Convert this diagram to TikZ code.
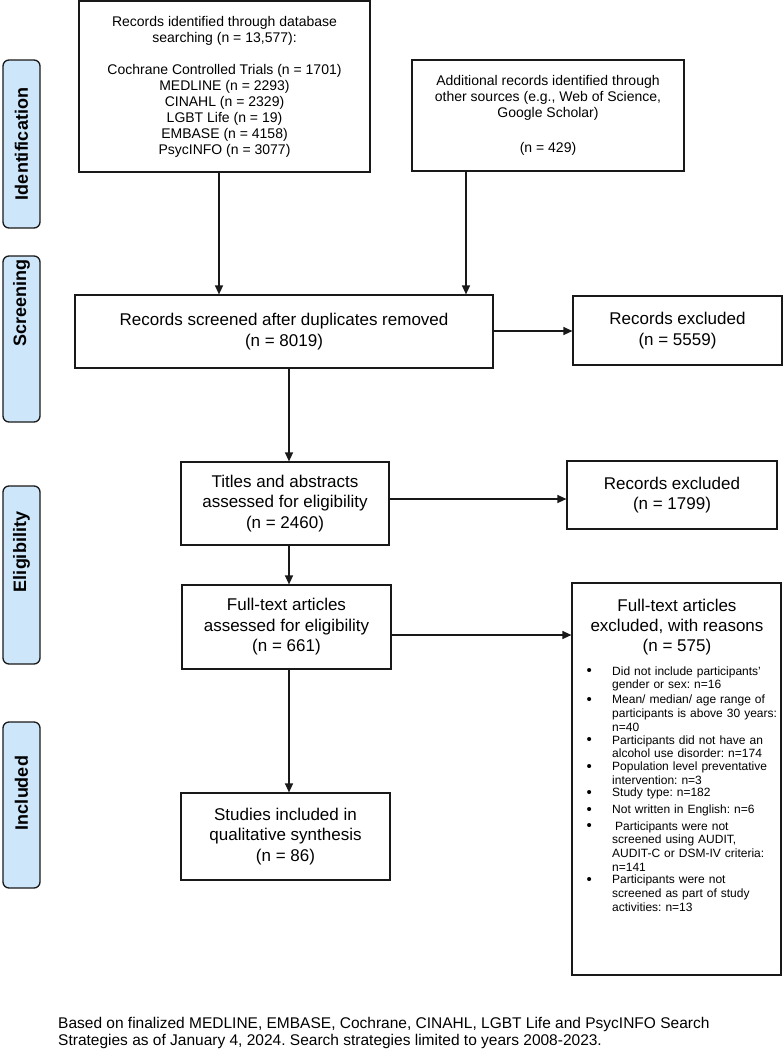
\documentclass[tikz,border=0pt]{standalone}
\usepackage{fontspec}
\setmainfont{Liberation Sans}
\usetikzlibrary{arrows.meta,calc}
\definecolor{labfill}{RGB}{205,230,250}
\definecolor{linec}{RGB}{25,25,25}
\frenchspacing
\newcommand{\exitem}[2][0pt]{\par\noindent\hbox to 26pt{\hskip 0.5pt\raisebox{-0.6pt}{\fontsize{15}{13.8}\selectfont\textbullet}\hfil}\hspace{#1}\parbox[t]{170pt}{\raggedright #2}\par\vspace{2.8pt}}
\begin{document}
\begin{tikzpicture}[x=1pt,y=-1pt,
  box/.style={draw=linec, line width=1.2pt, inner sep=0pt, align=center, font=\fontsize{17}{20.5}\selectfont},
  smallbox/.style={box, font=\fontsize{14}{16}\selectfont},
  labbox/.style={draw=linec, fill=labfill, line width=1.3pt, rounded corners=6pt, inner sep=0pt, rotate=90, minimum height=37pt},
  labtext/.style={font=\bfseries\fontsize{18}{20}\selectfont, rotate=90, inner sep=0pt},
  arr/.style={draw=linec, line width=1.3pt, -{Triangle[length=9pt,width=8pt]}}]
\useasboundingbox (0,0) rectangle (783,1050);

% stage labels
\node[labbox, minimum width=168pt] (lab1) at (21.5,144) {};
\node[labtext] (lab1t) at (21.5,144) {Identification};
\node[labbox, minimum width=166pt] (lab2) at (21.5,339) {};
\node[labtext] (lab2t) at (21.5,303) {Screening};
\node[labbox, minimum width=178pt] (lab3) at (21.5,575) {};
\node[labtext] (lab3t) at (21.5,552) {Eligibility};
\node[labbox, minimum width=166pt] (lab4) at (21.5,805) {};
\node[labtext] (lab4t) at (21.5,793) {Included};

% boxes
\node[smallbox, minimum width=291pt, minimum height=171pt] (tl) at (224.5,86.5)
  {Records identified through database\\ searching (n = 13,577):\\[16pt]
   Cochrane Controlled Trials (n = 1701)\\ MEDLINE (n = 2293)\\ CINAHL (n = 2329)\\
   LGBT Life (n = 19)\\ EMBASE (n = 4158)\\ PsycINFO (n = 3077)};
\node[smallbox, minimum width=272pt, minimum height=111pt] (tr) at (548,115.5)
  {Additional records identified through\\ other sources (e.g., Web of Science,\\ Google Scholar)\\[19pt] (n = 429)};
\node[box, minimum width=418pt, minimum height=73pt] (scr) at (284,331.5)
  {Records screened after duplicates removed\\ (n = 8019)};
\node[box, minimum width=209pt, minimum height=69pt] (exc1) at (677.5,330.5)
  {Records excluded\\ (n = 5559)};
\node[box, minimum width=208pt, minimum height=83pt] (tit) at (285,503.5)
  {Titles and abstracts\\ assessed for eligibility\\ (n = 2460)};
\node[box, minimum width=210pt, minimum height=68pt] (exc2) at (672,495)
  {Records excluded\\ (n = 1799)};
\node[box, minimum width=209pt, minimum height=84pt] (ft) at (286.5,627)
  {Full-text articles\\ assessed for eligibility\\ (n = 661)};
\node[box, minimum width=209pt, minimum height=392pt] (exc3) at (676.5,779) {};
\node[align=center, inner sep=0pt, font=\fontsize{17}{20}\selectfont] (exc3h) at (677,627)
  {Full-text articles\\ excluded, with reasons\\ (n = 575)};
\node[anchor=north west, inner sep=0pt, text width=197pt, align=left, font=\fontsize{12}{13.8}\selectfont] (exc3l) at (586,661)
  {\exitem{Did not include participants'\\ gender or sex: n=16}
   \exitem{Mean/ median/ age range of\\ participants is above 30 years:\\ n=40}
   \exitem{Participants did not have an\\ alcohol use disorder: n=174}
   \exitem{Population level preventative\\ intervention: n=3}
   \exitem{Study type: n=182}
   \exitem{Not written in English: n=6}
   \exitem{\hspace*{3pt}Participants were not\\ screened using AUDIT,\\ AUDIT-C or DSM-IV criteria:\\ n=141}
   \exitem{Participants were not\\ screened as part of study\\ activities: n=13}};
\node[box, minimum width=209pt, minimum height=87pt] (inc) at (285.5,836.5)
  {Studies included in\\ qualitative synthesis\\ (n = 86)};

% footnote
\node[anchor=north west, align=left, inner sep=0pt, font=\fontsize{15.5}{17}\selectfont] (note) at (58,1017)
  {Based on finalized MEDLINE, EMBASE, Cochrane, CINAHL, LGBT Life and PsycINFO Search\\
   Strategies as of January 4, 2024. Search strategies limited to years 2008-2023.};

% connector guides
\coordinate (ax1) at (219,0);
\coordinate (ax2) at (466,0);
\coordinate (ax3) at (289,0);
\coordinate (ay1) at (0,331);
\coordinate (ay2) at (0,499);
\coordinate (ay3) at (0,635);

\draw[arr] (tl.south -| ax1) -- (scr.north -| ax1);
\draw[arr] (tr.south -| ax2) -- (scr.north -| ax2);
\draw[arr] (scr.east |- ay1) -- (exc1.west |- ay1);
\draw[arr] (scr.south -| ax3) -- (tit.north -| ax3);
\draw[arr] (tit.east |- ay2) -- (exc2.west |- ay2);
\draw[arr] (tit.south -| ax3) -- (ft.north -| ax3);
\draw[arr] (ft.east |- ay3) -- (exc3.west |- ay3);
\draw[arr] (ft.south -| ax3) -- (inc.north -| ax3);
\end{tikzpicture}
\end{document}
